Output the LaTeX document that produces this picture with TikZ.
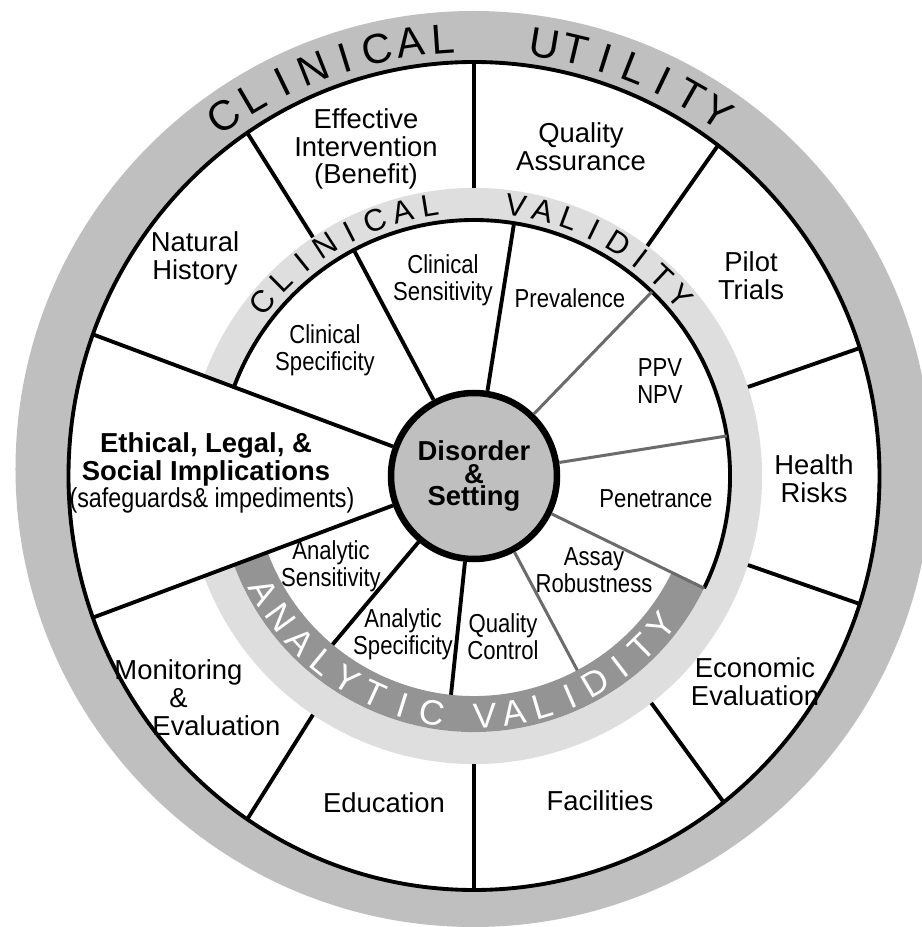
\documentclass[tikz,border=0pt]{standalone}
\usepackage{fontspec}
\setmainfont{Liberation Sans}
\newfontfamily\narrowfont[FakeStretch=0.85]{Liberation Sans}

\definecolor{ringgray}{gray}{0.75}
\definecolor{lightring}{gray}{0.87}
\definecolor{darkband}{gray}{0.58}
\definecolor{spokegray}{gray}{0.42}

\begin{document}
\begin{tikzpicture}[outer/.style={align=center,inner sep=0pt,font=\fontsize{7.8}{7.9}\selectfont},
    inner/.style={align=center,inner sep=0pt,font=\narrowfont\fontsize{7.4}{7.6}\selectfont},
    hub/.style={circle,draw,line width=1.85pt,fill=ringgray,minimum size=1.66cm,inner sep=0pt,align=center,font=\bfseries\fontsize{7.8}{6.4}\selectfont},
    spoke/.style={line width=1.1pt},
    thinspoke/.style={line width=0.85pt,spokegray},
    bigletter/.style={inner sep=0pt,font=\fontsize{11.9}{12}\selectfont},
    midletter/.style={inner sep=0pt,font=\fontsize{8.8}{9}\selectfont},
    lowletter/.style={inner sep=0pt,text=white,font=\fontsize{10}{10}\selectfont}]
    
    \clip (-4.74,-4.51) rectangle (4.48,4.76);
    
    \fill[ringgray] (-0.005,0.07) circle (4.58);
    \draw[spoke,fill=white] (0,0) ellipse [x radius=4.055, y radius=4.14];
    \fill[lightring] (0,0) -- (200:2.88) arc[start angle=200,end angle=520,radius=2.88] -- cycle;
    \fill[white] (0,0) circle (2.56);
    \fill[darkband] (200:2.20) arc[start angle=200,end angle=334,radius=2.20] -- (334:2.56) arc[start angle=334,end angle=200,radius=2.56] -- cycle;
    \draw[spoke] (-26:2.56) arc[start angle=-26,end angle=160,radius=2.56];
    
    \node[hub] (hub) at (0,0) {Disorder\\\&\\Setting};
    
    \foreach \a in {90,53,18,-18,-52,-90,-124,124}
        \draw[spoke] (\a:2.88) -- ({4.055*cos(\a)},{4.14*sin(\a)});
    \foreach \a in {160,200}
        \draw[spoke] (hub.\a) -- ({4.055*cos(\a)},{4.14*sin(\a)});
    \foreach \a in {118,81}
        \draw[spoke] (hub.\a) -- (\a:2.56);
    \foreach \a in {264,230}
        \draw[spoke] (hub.\a) -- (\a:2.20);
    \foreach \a in {46,9,334}
        \draw[thinspoke] (hub.\a) -- (\a:2.56);
    \draw[thinspoke] (hub.298) -- (298:2.20);
    
    \foreach \ch [count=\i] in {C,L,I,N,I,C,A,L} {
        \pgfmathsetmacro\a{129.2-4.4*\i}
        \node[bigletter,rotate=\a-90] (cu\i) at (\a:4.38) {\ch};
    }
    \foreach \ch [count=\i] in {U,T,I,L,I,T,Y} {
        \pgfmathsetmacro\a{84.78-4.08*\i}
        \node[bigletter,rotate=\a-90] (ut\i) at (\a:4.38) {\ch};
    }
    \foreach \ch [count=\i] in {C,L,I,N,I,C,A,L} {
        \pgfmathsetmacro\a{146.5-5.9*\i}
        \node[midletter,rotate=\a-90] (cv\i) at (\a:2.74) {\ch};
    }
    \foreach \ch [count=\i] in {V,A,L,I,D,I,T,Y} {
        \pgfmathsetmacro\a{86.94-5.74*\i}
        \node[midletter,rotate=\a-90] (va\i) at (\a:2.74) {\ch};
    }
    \foreach \ch [count=\i] in {A,N,A,L,Y,T,I,C} {
        \pgfmathsetmacro\a{201.6+7.3*\i}
        \node[lowletter,rotate=\a+90] (an\i) at (\a:2.40) {\ch};
    }
    \foreach \ch [count=\i] in {V,A,L,I,D,I,T,Y} {
        \pgfmathsetmacro\a{265.63+6.97*\i}
        \node[lowletter,rotate=\a+90] (av\i) at (\a:2.40) {\ch};
    }
    
    \node[outer] (effect) at (-1.08,3.27) {Effective\\Intervention\\(Benefit)};
    \node[outer] (qa) at (1.07,3.29) {Quality\\Assurance};
    \node[outer] (pilot) at (2.77,2.00) {Pilot\\Trials};
    \node[outer] (health) at (3.40,-0.03) {Health\\Risks};
    \node[outer] (econ) at (2.81,-2.06) {Economic\\Evaluation};
    \node[outer] (facil) at (1.26,-3.25) {Facilities};
    \node[outer] (educ) at (-0.90,-3.27) {Education};
    \node[outer,align=left] (monit) at (-2.765,-2.215) {Monitoring\\\hspace*{0.55cm}\&\\\hspace*{0.38cm}Evaluation};
    \node[outer] (natural) at (-2.79,2.175) {Natural\\History};
    \node[outer] (elsi) at (-2.68,0.03) {\textbf{Ethical, Legal, \&}\\\textbf{Social Implications}\\\hspace*{0.12cm}{\narrowfont (safeguards\& impediments)}};
    
    \node[inner] (cspec) at (-1.49,1.255) {Clinical\\Specificity};
    \node[inner] (csens) at (-0.31,1.96) {Clinical\\Sensitivity};
    \node[inner] (prev) at (0.96,1.78) {Prevalence};
    \node[inner] (ppv) at (1.86,0.95) {PPV\\NPV};
    \node[inner] (pen) at (1.82,-0.23) {Penetrance};
    \node[inner] (assay) at (1.20,-0.945) {Assay\\Robustness};
    \node[inner] (qc) at (0.29,-1.61) {Quality\\Control};
    \node[inner] (aspec) at (-0.71,-1.585) {Analytic\\Specificity};
    \node[inner] (asens) at (-1.43,-0.905) {Analytic\\Sensitivity};
    
\end{tikzpicture}
\end{document}
